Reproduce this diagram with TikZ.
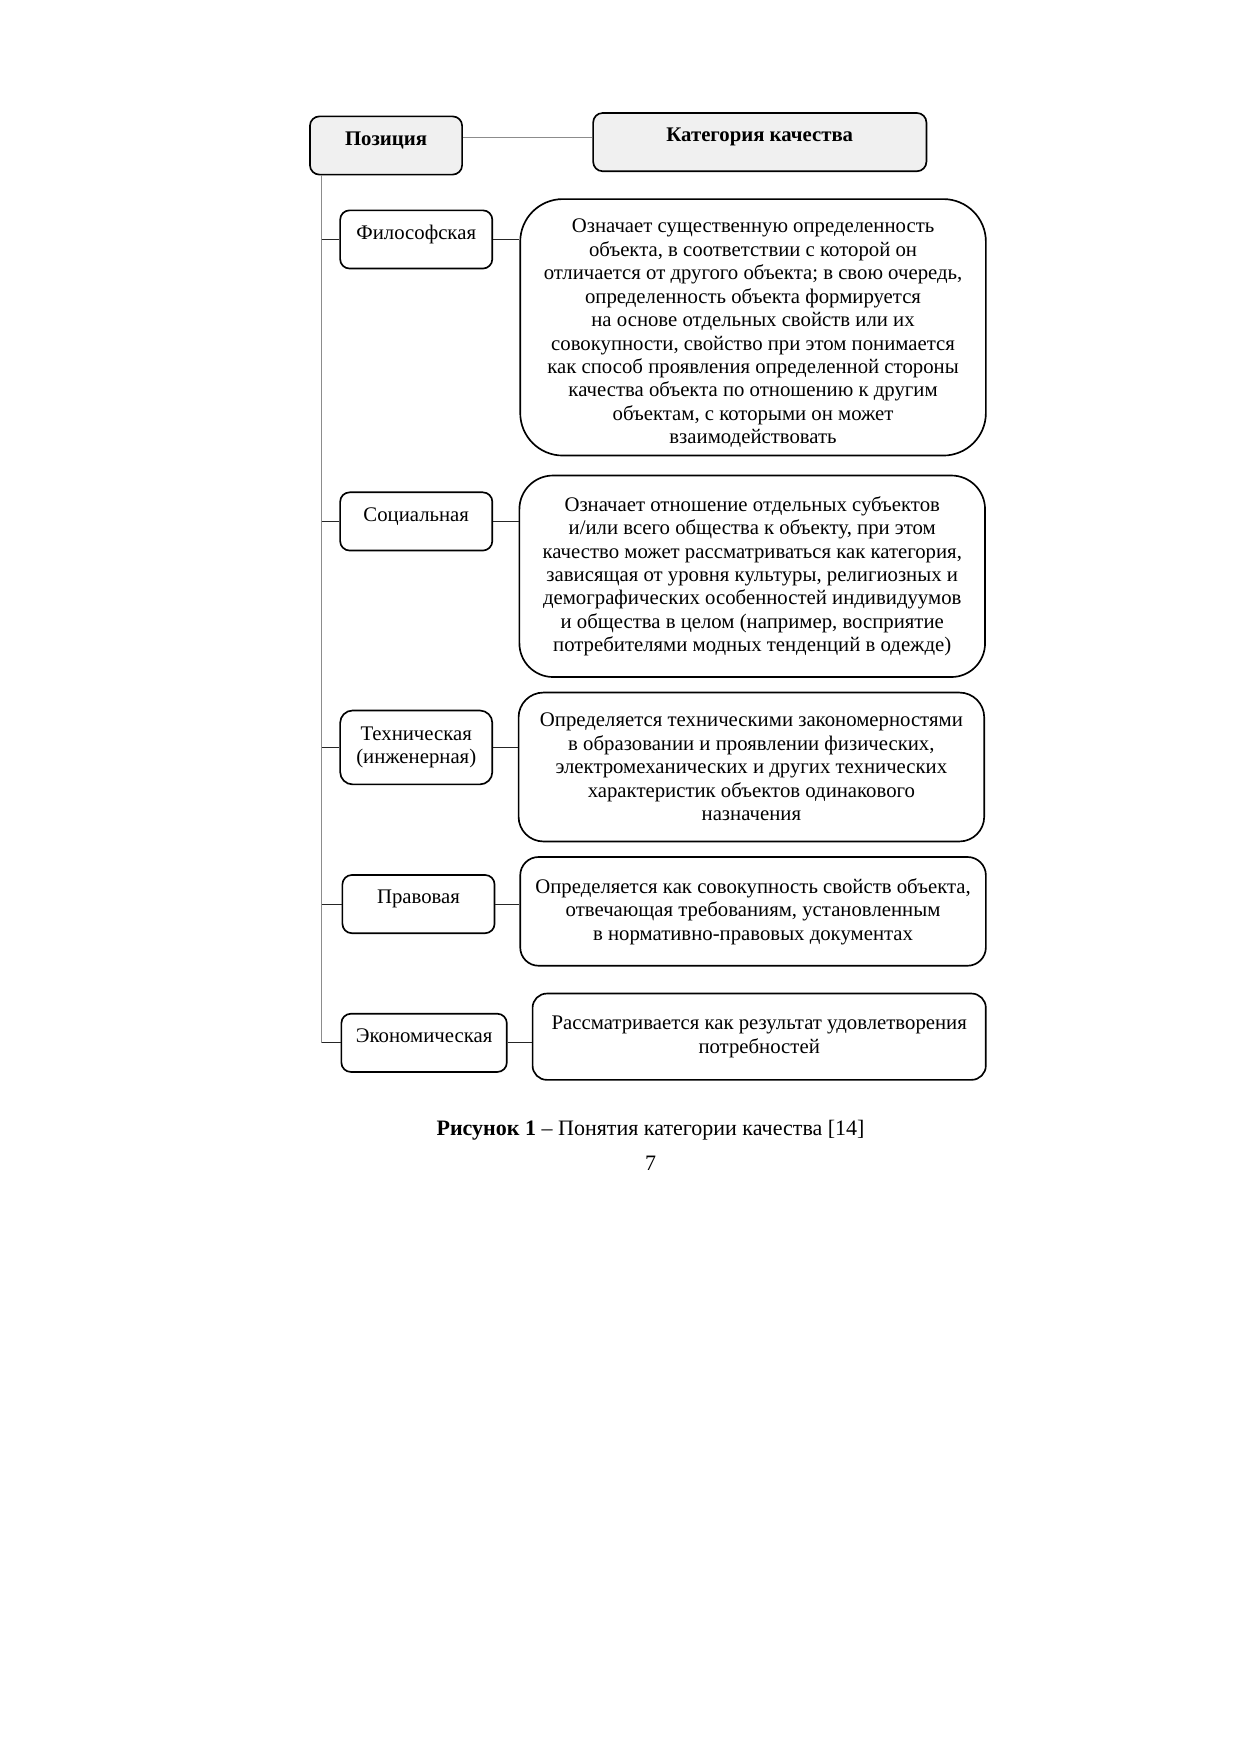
\documentclass[tikz,border=0pt]{standalone}
\usepackage{fontspec}
\setmainfont{Liberation Serif}
\usetikzlibrary{positioning,calc}

\begin{document}
\begin{tikzpicture}[x=1mm, y=-1mm,
  box/.style={draw, line width=0.8pt, inner sep=0pt, font=\fontsize{10}{11.3}\selectfont},
  kind/.style={box, rounded corners=1.6mm, minimum width=25.75mm, minimum height=9.85mm, text height=7pt, text depth=7.4pt},
  head/.style={kind, fill=black!6, font=\fontsize{10}{11.3}\selectfont\bfseries},
  desc/.style={box, minimum width=78.8mm, align=center},
  link/.style={draw=black!85, line width=0.5pt},
  trunk/.style={draw=black!45, line width=0.6pt}]
\useasboundingbox (0,0) rectangle (210,297);
\node[head] (pos) at (65.33,24.62) {Позиция};
\node[head, minimum width=56.4mm] (cat) at (128.58,24.05) {Категория качества};
\node[kind] (phil) at (70.44,40.52) {Философская};
\node[desc, minimum height=43.4mm, rounded corners=7.2mm] (phil-d) at (127.44,55.39) {\rule{0pt}{12.5pt}Означает существенную определенность\\
  объекта, в соответствии с которой он\\
  отличается от другого объекта; в свою очередь,\\
  определенность объекта формируется\\
  на основе отдельных свойств или их\\
  совокупности, свойство при этом понимается\\
  как способ проявления определенной стороны\\
  качества объекта по отношению к другим\\
  объектам, с которыми он может\\
  взаимодействовать};
\node[kind] (soc) at (70.44,88.24) {Социальная};
\node[desc, minimum height=34.1mm, rounded corners=5.7mm] (soc-d) at (127.3,97.52) {Означает отношение отдельных субъектов\\
  и/или всего общества к объекту, при этом\\
  качество может рассматриваться как категория,\\
  зависящая от уровня культуры, религиозных и\\
  демографических особенностей индивидуумов\\
  и общества в целом (например, восприятие\\
  потребителями модных тенденций в одежде)};
\node[box, rounded corners=2.1mm, minimum width=25.75mm, minimum height=12.5mm, align=center] (tech) at (70.44,126.49) {Техническая\\(инженерная)};
\node[desc, minimum height=25.2mm, rounded corners=4.2mm] (tech-d) at (127.16,129.8) {Определяется техническими закономерностями\\
  в образовании и проявлении физических,\\
  электромеханических и других технических\\
  характеристик объектов одинакового\\
  назначения};
\node[kind] (law) at (70.82,153.0) {Правовая};
\node[desc, minimum height=18.4mm, rounded corners=3.1mm] (law-d) at (127.44,154.23) {Определяется как совокупность свойств объекта,\\
  отвечающая требованиям, установленным\\
  в нормативно-правовых документах};
\node[kind, minimum width=28mm] (econ) at (71.77,176.48) {Экономическая};
\node[desc, minimum width=76.7mm, minimum height=14.6mm, rounded corners=2.4mm] (econ-d) at (128.48,175.44) {Рассматривается как результат удовлетворения\\
  потребностей};

\draw[trunk] ([yshift=1.35mm]pos.east) -- ([yshift=1.35mm]pos.east -| cat.west);
\coordinate (trunk) at ($(pos.south west)+(2.1,0)$);
\draw[trunk] (trunk) -- (trunk |- econ.west);
\foreach \n in {phil,soc,tech,law,econ}
  \draw[link] (trunk |- \n.west) -- (\n.west);
\foreach \n in {phil,soc,tech,law,econ}
  \draw[link] (\n.east) -- (\n.east -| \n-d.west);

\node[font=\fontsize{10.6}{13}\selectfont] (caption) at (110.1,191.25) {\textbf{Рисунок 1} – Понятия категории качества [14]};
\node[font=\fontsize{10.6}{13}\selectfont] (page) at (110.1,196.93) {7};
\end{tikzpicture}
\end{document}
